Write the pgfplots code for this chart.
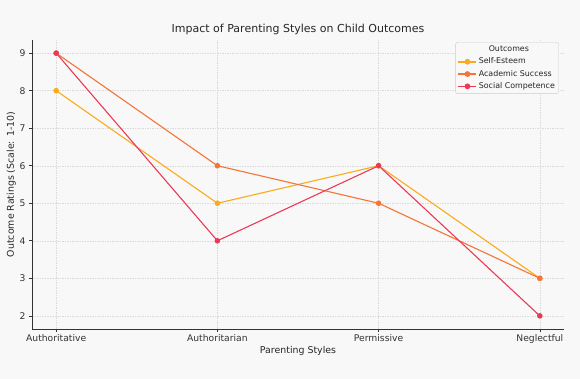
\documentclass[border=0pt]{standalone}
\usepackage{pgfplots}
\pgfplotsset{compat=1.18}
\usepackage{fontspec}
\setmainfont{DejaVu Sans}
\definecolor{bgc}{HTML}{F8F8F8}
\definecolor{cse}{HTML}{FBAA1C}
\definecolor{cas}{HTML}{F47536}
\definecolor{csc}{HTML}{EA3A57}
\definecolor{gridc}{HTML}{DADADA}
\begin{document}
\begin{tikzpicture}
\fill[bgc] (-32pt,-50pt) rectangle (548pt,329pt);
\begin{axis}[
  scale only axis,
  width=532pt, height=289pt,
  xmin=-0.15, xmax=3.15,
  ymin=1.65, ymax=9.35,
  xtick={0,1,2,3},
  xticklabels={Authoritative,Authoritarian,Permissive,Neglectful},
  ytick={2,3,4,5,6,7,8,9},
  axis x line*=bottom,
  axis y line*=left,
  axis line style={black!80, line width=0.8pt},
  tick style={black!80, line width=0.6pt},
  tick align=outside,
  major tick length=3pt,
  grid=major,
  grid style={gridc, dash pattern=on 1.5pt off 1pt, line width=0.4pt},
  ticklabel style={font=\fontsize{9.2}{11}\selectfont, text=black!80},
  xticklabel style={yshift=1pt},
  /pgf/number format/assume math mode=true,
  xlabel={Parenting Styles},
  ylabel={Outcome Ratings (Scale: 1-10)},
  label style={font=\fontsize{9.4}{11}\selectfont, text=black!85},
  xlabel style={yshift=4pt},
  ylabel style={yshift=-3pt},
  title={Impact of Parenting Styles on Child Outcomes},
  title style={font=\fontsize{11}{13}\selectfont, text=black!85, yshift=-4pt},
  legend style={at={(0.99,0.993)}, anchor=north east, font=\fontsize{7.9}{9}\selectfont,
    fill=bgc, rounded corners=2pt, text=black!85,
    inner sep=2pt, draw=black!20, row sep=1.6pt,
    nodes={fill=none, draw=none, inner sep=1.6pt}},
  legend cell align=left,
  legend image code/.code={%
    \draw[#1, line width=1.6pt, mark=none] (0pt,0pt) -- (18pt,0pt);
    \draw[#1, line width=1.1pt, mark size=2.3pt] plot coordinates {(9pt,0pt)};},
  every axis plot/.append style={line width=1.1pt, mark=*, mark size=2.2pt},
]
\addlegendimage{empty legend}
\addlegendentry{\hspace{-10pt}\makebox[80pt][c]{Outcomes}}
\addplot[cse, mark options={fill=cse}] coordinates {(0,8) (1,5) (2,6) (3,3)};
\addlegendentry{Self-Esteem}
\addplot[cas, mark options={fill=cas}] coordinates {(0,9) (1,6) (2,5) (3,3)};
\addlegendentry{Academic Success}
\addplot[csc, mark options={fill=csc}] coordinates {(0,9) (1,4) (2,6) (3,2)};
\addlegendentry{Social Competence}
\end{axis}
\pgfresetboundingbox
\path (-32pt,-50pt) rectangle (548pt,329pt);
\end{tikzpicture}
\end{document}
